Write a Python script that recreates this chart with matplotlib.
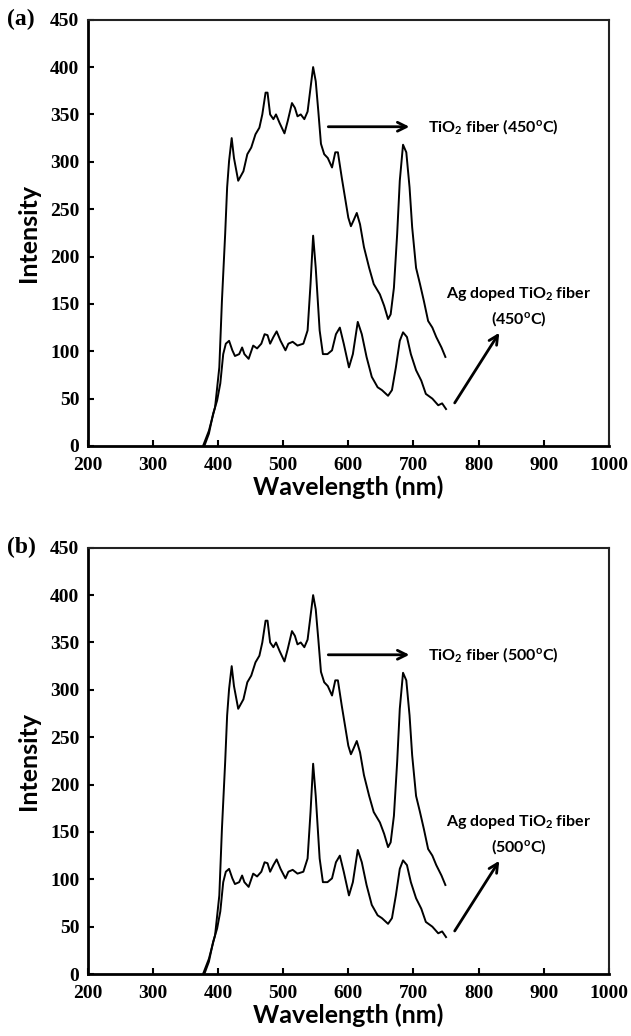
import matplotlib.pyplot as plt

plt.rcParams['mathtext.fontset'] = 'custom'
plt.rcParams['mathtext.rm'] = 'Lato:bold'
plt.rcParams['mathtext.it'] = 'Lato:bold'
plt.rcParams['mathtext.default'] = 'regular'

# TiO2 fiber spectrum
tio2_wl = [377, 386, 395.5, 402, 406, 411, 414, 417, 421, 424.5, 431, 439, 445, 451,
           457.5, 463.5, 468, 473, 476, 480, 485, 489, 494.5, 502, 507, 513.5, 518,
           522, 527, 532.5, 537.5, 542, 546, 550, 554, 558, 563, 568.5, 575, 580, 584,
           590, 595, 600, 604, 608, 613, 618, 624, 632, 639, 648.5, 655, 661, 665, 670,
           675, 679, 684, 689, 694, 698, 704, 710, 716, 722.5, 729, 735, 743, 749]
tio2_int = [0, 16, 41, 83, 153, 224, 273, 301, 325, 304, 280, 290, 308, 315,
            329, 336, 350, 373, 373, 350, 345, 350, 341, 330, 343, 362, 357,
            348, 350, 345, 353, 378, 400, 385, 353, 319, 308, 304, 294, 310, 310,
            283, 262, 241, 232, 238, 246, 234, 210, 188, 171, 160, 148, 134, 139, 167,
            224, 280, 318, 310, 273, 231, 188, 171, 153, 132, 125, 115, 104, 94]

# Ag doped TiO2 fiber spectrum
ag_wl = [379, 386, 392.5, 398.6, 403.5, 408, 412, 417, 422, 426, 432.5, 437, 440.5, 447,
         454, 460, 466.5, 471.5, 476, 480, 485, 490, 496, 503.5, 508, 514.6, 522, 531,
         537.5, 542, 546, 550, 556, 561, 568, 575, 581, 587, 593, 601, 607, 614.5,
         620.7, 628, 636, 645, 651.6, 661, 667, 673, 679, 684, 690, 696, 704, 712,
         719, 729, 738, 744, 750]
ag_int = [0, 13, 34, 48, 66, 97, 108, 111, 101, 95, 97, 104, 97, 92,
          106, 103, 108, 118, 117, 108, 115, 121, 111, 101, 108, 110, 106, 108,
          122, 171, 222, 188, 122, 97, 97, 101, 118, 125, 108, 83, 97, 131,
          118, 94, 73, 62, 59, 53, 59, 83, 111, 120, 115, 97, 80, 69,
          55, 50, 43, 45, 39]

panel_labels = ['(a)', '(b)']
temps = ['450', '500']
x_ticks = [200, 300, 400, 500, 600, 700, 800, 900, 1000]
y_ticks = [0, 50, 100, 150, 200, 250, 300, 350, 400, 450]

fig = plt.figure(figsize=(6.31, 10.36), dpi=100)
boxes = [[0.139, 0.5695, 0.826, 0.4115], [0.139, 0.0598, 0.826, 0.4115]]

for box, lab, temp in zip(boxes, panel_labels, temps):
    ax = fig.add_axes(box)
    ax.plot(tio2_wl, tio2_int, color='black', lw=1.4)
    ax.plot(ag_wl, ag_int, color='black', lw=1.4)
    ax.set_xlim(200, 1000)
    ax.set_ylim(0, 450)
    ax.set_xticks(x_ticks)
    ax.set_yticks(y_ticks)
    ax.tick_params(direction='in', length=4, width=1.5)
    ax.tick_params(axis='x', pad=8)
    ax.tick_params(axis='y', pad=6)
    for t in ax.get_xticklabels() + ax.get_yticklabels():
        t.set_fontfamily('Liberation Serif')
        t.set_fontweight('bold')
        t.set_fontsize(14)
    for s in ['left', 'bottom']:
        ax.spines[s].set_linewidth(2)
    for s in ['top', 'right']:
        ax.spines[s].set_linewidth(1.5)
        ax.spines[s].set_color('#222222')
    ax.set_xlabel('Wavelength (nm)', family='Lato', weight='bold', fontsize=18, labelpad=1)
    ax.set_ylabel('Intensity', family='Lato', weight='bold', fontsize=18, labelpad=7)

    ax.annotate('', xy=(698, 337), xytext=(565, 337),
                arrowprops=dict(arrowstyle='->', lw=2, color='black', mutation_scale=16))
    ax.text(722, 337, 'TiO$_2$ fiber (' + temp + '$^o$C)', family='Lato', weight='bold',
            fontsize=11.5, va='center', ha='left')
    ax.annotate('', xy=(834, 122), xytext=(761, 43),
                arrowprops=dict(arrowstyle='->', lw=2, color='black', mutation_scale=16))
    ax.text(862, 160, 'Ag doped TiO$_2$ fiber', family='Lato', weight='bold',
            fontsize=11.5, va='center', ha='center')
    ax.text(862, 135, '(' + temp + '$^o$C)', family='Lato', weight='bold',
            fontsize=11.5, va='center', ha='center')

    ax.text(-0.155, 1.0, lab, transform=ax.transAxes, family='Liberation Serif',
            weight='bold', fontsize=17, va='center', ha='left')

fig.savefig('out.png', dpi=100)
